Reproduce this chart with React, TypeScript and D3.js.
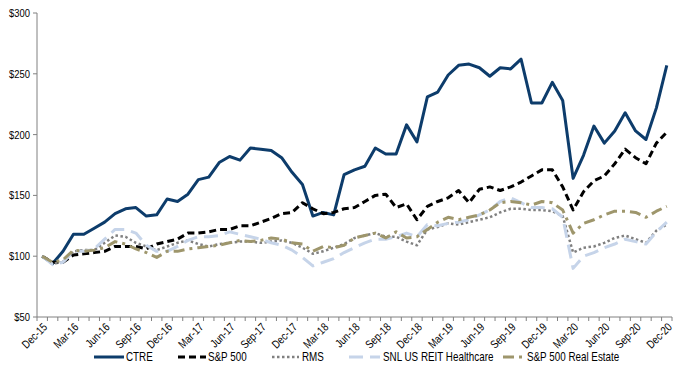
import React, { useEffect } from "react";
import * as d3 from "d3";

const months = ["Jan", "Feb", "Mar", "Apr", "May", "Jun", "Jul", "Aug", "Sep", "Oct", "Nov", "Dec"];
// Monthly categories Dec-15 .. Dec-20
const categories: string[] = ["Dec-15"];
for (let y = 16; y <= 20; y++) for (const m of months) categories.push(`${m}-${y}`);

const ctre = [100, 94, 104, 118, 118, 123, 128, 135, 139, 140, 133, 134, 147, 145, 151, 163, 165, 177, 182, 179, 189, 188, 187, 181, 169, 159, 133, 136, 134, 167, 171, 174, 189, 184, 184, 208, 194, 231, 235, 249, 257, 258, 255, 248, 255, 254, 262, 226, 226, 243, 228, 164, 183, 207, 193, 203, 218, 203, 196, 222, 257];
const sp500 = [100, 95, 95, 101, 102, 103, 104, 108, 108, 108, 106, 110, 112, 114, 119, 119, 120, 122, 122, 125, 125, 128, 131, 135, 136, 144, 139, 135, 136, 139, 140, 145, 150, 151, 140, 143, 130, 141, 145, 148, 154, 144, 155, 157, 154, 157, 161, 166, 171, 171, 157, 138, 153, 162, 166, 176, 188, 181, 176, 193, 202];
const rms = [100, 94, 95, 104, 105, 105, 111, 117, 116, 111, 108, 105, 108, 111, 113, 110, 108, 110, 111, 112, 112, 111, 112, 113, 111, 107, 102, 104, 107, 110, 115, 117, 119, 116, 116, 112, 109, 122, 124, 127, 126, 128, 130, 132, 136, 139, 139, 138, 138, 137, 133, 103, 107, 108, 111, 115, 117, 114, 111, 121, 126];
const snlHealthcare = [100, 93, 95, 104, 104, 106, 114, 122, 122, 119, 109, 104, 104, 108, 113, 116, 116, 117, 120, 118, 116, 114, 111, 109, 105, 99, 92, 95, 98, 103, 107, 111, 114, 114, 116, 119, 116, 126, 125, 127, 128, 130, 134, 138, 145, 148, 144, 140, 140, 139, 132, 90, 100, 103, 107, 110, 114, 112, 110, 120, 128];
const spRealEstate = [100, 95, 97, 105, 104, 105, 107, 112, 110, 106, 103, 99, 104, 104, 106, 107, 108, 109, 111, 113, 112, 113, 115, 114, 111, 110, 104, 108, 107, 109, 115, 117, 119, 115, 120, 115, 116, 122, 128, 132, 130, 132, 134, 138, 144, 145, 144, 142, 145, 144, 138, 119, 127, 130, 134, 137, 137, 136, 132, 137, 141];

const yTicks = [50, 100, 150, 200, 250, 300];

const seriesDefs = [
  { name: "CTRE", values: ctre, color: "#0d3c6b", width: 3, dash: "" },
  { name: "S&P 500", values: sp500, color: "#000000", width: 3, dash: "7,4" },
  { name: "RMS", values: rms, color: "#808080", width: 2.5, dash: "2.5,2.5" },
  { name: "SNL US REIT Healthcare", values: snlHealthcare, color: "#c6d4e9", width: 3, dash: "14,7" },
  { name: "S&P 500 Real Estate", values: spRealEstate, color: "#9e966c", width: 3, dash: "11,5,3,5" },
];

const FONT = "'Liberation Sans', Arial, sans-serif";
const SX = 0.82; // horizontal condensing to mimic a narrow face

export default function App() {
  useEffect(() => {
    document.body.style.margin = "0";
  }, []);

  const W = 684, H = 375;
  const left = 37, right = 672, top = 13, bottom = 317;

  const x = d3.scaleBand<number>().domain(d3.range(categories.length)).range([left, right]);
  const cx = (i: number) => (x(i) as number) + x.bandwidth() / 2;
  const y = d3.scaleLinear().domain([50, 300]).range([bottom, top]);

  const line = d3.line<number>().x((_, i) => cx(i)).y((v) => y(v));

  const legendItems = [
    { s: seriesDefs[0], x0: 94, x1: 124, tx: 126 },
    { s: seriesDefs[1], x0: 178, x1: 206, tx: 208 },
    { s: seriesDefs[2], x0: 272, x1: 299, tx: 302 },
    { s: seriesDefs[3], x0: 349, x1: 380, tx: 383 },
    { s: seriesDefs[4], x0: 503, x1: 527, tx: 527 },
  ];

  return (
    <svg width={W} height={H} style={{ position: "absolute", left: 0, top: 0, background: "#fff" }} fontFamily={FONT}>
      {/* Y axis */}
      <line x1={left} x2={left} y1={top} y2={bottom} stroke="#808080" strokeWidth={1} />
      {yTicks.map((t) => (
        <g key={t}>
          <line x1={left - 4} x2={left} y1={y(t)} y2={y(t)} stroke="#808080" />
          <text
            transform={`translate(${left - 7},${y(t)}) scale(${SX},1)`}
            dy="0.35em"
            textAnchor="end"
            fontSize={11.5}
            fill="#000"
          >
            {`$${t}`}
          </text>
        </g>
      ))}
      {/* X axis */}
      <line x1={left} x2={right} y1={bottom} y2={bottom} stroke="#808080" strokeWidth={1} />
      {d3.range(categories.length + 1).map((i) => {
        const xx = i < categories.length ? (x(i) as number) : right;
        return <line key={i} x1={xx} x2={xx} y1={bottom} y2={bottom + 4} stroke="#808080" />;
      })}
      {categories.map((c, i) =>
        i % 3 === 0 ? (
          <text
            key={c}
            transform={`translate(${cx(i) + 3},${bottom + 8}) rotate(-45) scale(${SX},1)`}
            textAnchor="end"
            dy="0.35em"
            fontSize={11.5}
            fill="#000"
          >
            {c}
          </text>
        ) : null
      )}
      {/* Series */}
      {seriesDefs.map((s) => (
        <path
          key={s.name}
          d={line(s.values) || ""}
          fill="none"
          stroke={s.color}
          strokeWidth={s.width}
          strokeDasharray={s.dash || undefined}
          strokeLinejoin="round"
        />
      ))}
      {/* Legend */}
      {legendItems.map(({ s, x0, x1, tx }) => (
        <g key={s.name}>
          <line x1={x0} x2={x1} y1={357} y2={357} stroke={s.color} strokeWidth={s.width} strokeDasharray={s.dash || undefined} />
          <text transform={`translate(${tx},357) scale(${SX},1)`} dy="0.35em" fontSize={12} fill="#000">
            {s.name}
          </text>
        </g>
      ))}
    </svg>
  );
}
